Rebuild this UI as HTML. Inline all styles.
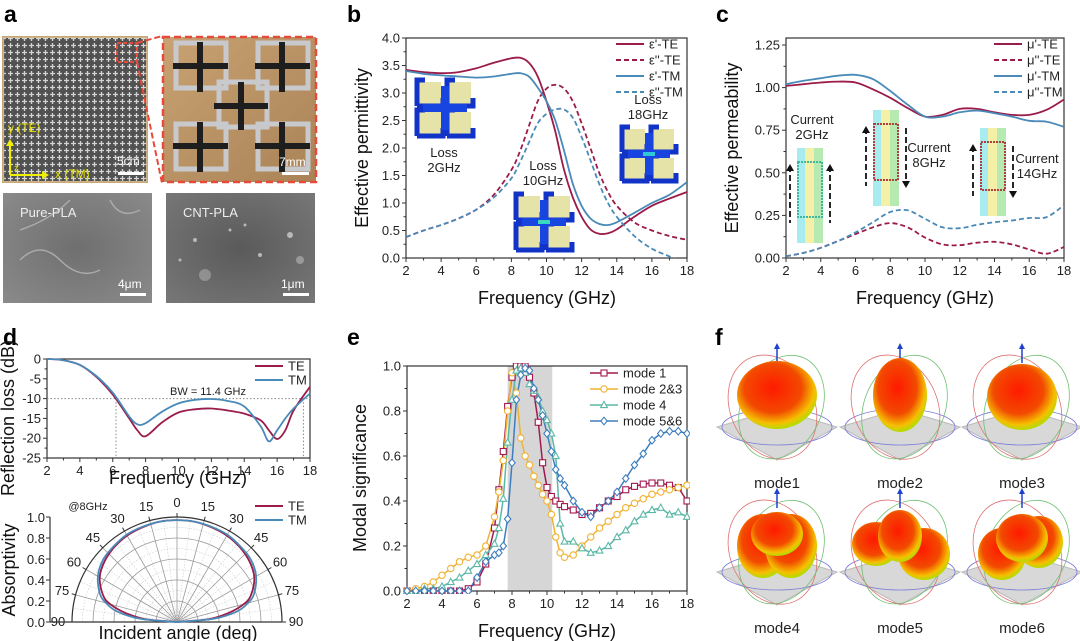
<!DOCTYPE html>
<html><head><meta charset="utf-8"><style>
body{margin:0;background:#fff;}
svg{display:block;font-family:"Liberation Sans",Arial,sans-serif;}
.tk{font-size:13px;fill:#222;}
.ttl{font-size:18px;fill:#111;}
.lg{font-size:13px;fill:#222;}
.pl{font-size:23px;font-weight:bold;fill:#000;}
</style></head><body>
<svg id="fig" width="1080" height="641" viewBox="0 0 1080 641" xmlns="http://www.w3.org/2000/svg">
<defs>
<pattern id="mesh" width="7" height="7" patternUnits="userSpaceOnUse"><rect width="7" height="7" fill="#3a3a3a"/><path d="M3.5 1v5M1 3.5h5" stroke="#cfcfcf" stroke-width="1.3"/></pattern>
<linearGradient id="wood" x1="0" y1="0" x2="1" y2="1"><stop offset="0" stop-color="#c9a273"/><stop offset="1" stop-color="#a98356"/></linearGradient>
<radialGradient id="sem1" cx="0.5" cy="0.5" r="0.7"><stop offset="0" stop-color="#6f6f6f"/><stop offset="1" stop-color="#8a8a8a"/></radialGradient>
<radialGradient id="sem2" cx="0.5" cy="0.5" r="0.7"><stop offset="0" stop-color="#5a5a5a"/><stop offset="1" stop-color="#777"/></radialGradient>
<radialGradient id="lobe" cx="0.45" cy="0.4" r="0.65"><stop offset="0" stop-color="#ff1a00"/><stop offset="0.55" stop-color="#f24a00"/><stop offset="0.8" stop-color="#f5c000"/><stop offset="0.95" stop-color="#a8e000"/><stop offset="1" stop-color="#40d040"/></radialGradient>
<clipPath id="cb"><rect x="406" y="38" width="281" height="220"/></clipPath>
<clipPath id="cc"><rect x="786" y="45" width="278" height="213"/></clipPath>
<clipPath id="ce"><rect x="403" y="363" width="287" height="231"/></clipPath>
</defs>

<g>
<text class="pl" x="4" y="22">a</text>
<rect x="3" y="37" width="144" height="145" fill="url(#mesh)" stroke="#c8a878" stroke-width="2"/>
<rect x="3" y="37" width="144" height="145" fill="#fff" opacity="0.12"/>
<rect x="117" y="43" width="20" height="19" fill="none" stroke="#e84a3a" stroke-width="2" stroke-dasharray="4 2"/>
<path d="M137 43 L162 36 M137 62 L162 183" stroke="#e84a3a" stroke-width="2" stroke-dasharray="6 3" fill="none"/>
<text x="8" y="132" font-size="12" fill="#e6e000">y (TE)</text>
<text x="55" y="178" font-size="12" fill="#e6e000">x (TM)</text>
<path d="M10 175 V142 M10 175 H45" stroke="#f0f000" stroke-width="2"/>
<path d="M6 146 L10 139 L14 146Z M42 171 L49 175 L42 179Z" fill="#f0f000"/>
<text x="14" y="171" font-size="9" fill="#f0f000">z</text>
<text x="117" y="165" font-size="12" fill="#fff">5cm</text>
<rect x="118" y="172" width="26" height="3" fill="#fff"/>
<rect x="163" y="37" width="153" height="145" fill="url(#wood)"/>
<g fill="none" stroke="#c7c9cc" stroke-width="5">
<rect x="176" y="43" width="50" height="45"/><rect x="258" y="43" width="50" height="45"/>
<rect x="219" y="82" width="48" height="45"/>
<rect x="176" y="124" width="50" height="45"/><rect x="258" y="124" width="50" height="45"/>
</g>
<g stroke="#1e1e1e" stroke-width="6">
<path d="M173 66H228M200 42V92M255 66H310M282 42V92M214 106H268M241 82V130M173 146H228M200 122V172M255 146H310M282 122V172"/>
</g>
<rect x="163" y="37" width="153" height="145" fill="none" stroke="#e84a3a" stroke-width="2.5" stroke-dasharray="7 4"/>
<text x="279" y="166" font-size="12" fill="#fff">7mm</text>
<rect x="282" y="172" width="27" height="3" fill="#fff"/>
<rect x="3" y="193" width="149" height="110" fill="url(#sem1)"/>
<path d="M20 260 q20 -20 40 0 t40 10 M110 200 q10 20 30 10 M20 230 q30 -10 50 -30" stroke="#aaa" stroke-width="1.5" fill="none"/>
<text x="20" y="217" font-size="13" fill="#eee">Pure-PLA</text>
<text x="118" y="288" font-size="12" fill="#fff">4μm</text>
<rect x="120" y="293" width="26" height="3" fill="#fff"/>
<rect x="166" y="193" width="149" height="110" fill="url(#sem2)"/>
<g fill="#b8b8b8"><circle cx="195" cy="240" r="2"/><circle cx="230" cy="230" r="1.5"/><circle cx="260" cy="255" r="2"/><circle cx="290" cy="235" r="3"/><circle cx="205" cy="275" r="6" opacity="0.5"/><circle cx="300" cy="260" r="4" opacity="0.6"/><circle cx="245" cy="225" r="1.5"/><circle cx="180" cy="260" r="1.5"/></g>
<text x="183" y="217" font-size="13" fill="#eee">CNT-PLA</text>
<text x="281" y="288" font-size="12" fill="#fff">1μm</text>
<rect x="283" y="293" width="26" height="3" fill="#fff"/>
</g>

<g id="panelB">
<text class="pl" x="347" y="22">b</text>
</g>
<g id="panelC">
<text class="pl" x="716" y="22">c</text>
</g>
<g id="panelD">
<text class="pl" x="3" y="345">d</text>
</g>
<g id="panelE">
<text class="pl" x="347" y="345">e</text>
</g>
<g id="panelF">
<text class="pl" x="715" y="345">f</text>
</g>
</svg>
<script>
const freqB = [2,3,4,5,6,7,8,8.5,9,9.5,10,10.5,11,11.5,12,12.5,13,13.5,14,15,16,17,18];
const epsRealTE = [3.42,3.38,3.36,3.38,3.45,3.55,3.63,3.64,3.55,3.3,2.85,2.3,1.6,1.1,0.75,0.52,0.44,0.45,0.52,0.75,0.95,1.08,1.2];
const epsImagTE = [0.38,0.5,0.6,0.72,0.88,1.15,1.6,1.95,2.4,2.85,3.08,3.15,3.08,2.85,2.45,2.0,1.55,1.2,0.95,0.65,0.5,0.4,0.33];
const epsRealTM = [3.4,3.35,3.32,3.3,3.28,3.3,3.35,3.36,3.3,3.1,2.85,2.5,1.95,1.35,0.95,0.72,0.62,0.6,0.65,0.82,1.0,1.15,1.38];
const epsImagTM = [0.38,0.5,0.6,0.72,0.88,1.1,1.45,1.75,2.1,2.45,2.62,2.7,2.7,2.55,2.2,1.78,1.35,1.0,0.75,0.4,0.17,0.03,-0.1];
const ticksB = ["0.0","0.5","1.0","1.5","2.0","2.5","3.0","3.5","4.0"];

const freqC = [2,3,4,5,6,7,8,9,10,11,12,13,14,15,16,17,18];
const muRealTE = [1.01,1.02,1.03,1.035,1.03,0.99,0.94,0.88,0.83,0.84,0.875,0.875,0.855,0.84,0.84,0.87,0.93];
const muImagTE = [0.01,0.03,0.06,0.1,0.14,0.18,0.205,0.18,0.12,0.08,0.075,0.09,0.095,0.08,0.05,0.025,0.065];
const muRealTM = [1.02,1.04,1.055,1.07,1.075,1.05,0.98,0.9,0.83,0.83,0.855,0.865,0.85,0.83,0.805,0.8,0.77];
const muImagTM = [0.01,0.03,0.06,0.1,0.15,0.21,0.27,0.28,0.23,0.18,0.175,0.195,0.21,0.22,0.235,0.24,0.31];
const ticksC = ["0.00","0.25","0.50","0.75","1.00","1.25"];

const freqD = [2,3,4,5,6,7,7.5,8,9,10,11,12,13,14,15,15.5,16,16.5,17,18];
const rlTE = [0,-0.3,-1.5,-4.5,-9,-15,-18,-19.5,-16,-13.5,-12.7,-12.5,-13,-13.8,-15.5,-18,-20.2,-18,-13,-7];
const rlTM = [0,-0.3,-1.5,-4.3,-8.5,-14.5,-16.5,-16.2,-13.3,-11.2,-10.3,-10.1,-10.6,-12,-17,-20.8,-18,-15,-12.5,-8.7];
const ticksD = ["0","-5","-10","-15","-20","-25"];
const bwStart = 6.2, bwEnd = 17.6;

const angles = [0,10,20,30,40,50,60,70,75,80,85,90];
const absTE = [0.97,0.97,0.96,0.95,0.93,0.9,0.85,0.75,0.66,0.5,0.3,0.0];
const absTM = [0.97,0.97,0.965,0.96,0.94,0.92,0.87,0.78,0.7,0.58,0.35,0.0];

const freqE = [2,2.5,3,3.5,4,4.5,5,5.5,6,6.5,7,7.25,7.5,7.75,8,8.25,8.5,8.75,9,9.25,9.5,9.75,10,10.25,10.5,10.75,11,11.5,12,12.5,13,13.5,14,14.5,15,15.5,16,16.5,17,17.5,18];
const mode1 = [0,0,0,0,0,0,0,0.01,0.04,0.12,0.28,0.45,0.62,0.82,0.95,1.0,1.0,1.0,0.95,0.88,0.75,0.57,0.46,0.42,0.4,0.385,0.375,0.36,0.34,0.345,0.37,0.4,0.42,0.45,0.465,0.475,0.48,0.48,0.47,0.46,0.4];
const mode23 = [0,0.01,0.02,0.04,0.07,0.1,0.13,0.15,0.16,0.2,0.33,0.44,0.58,0.8,0.97,0.88,0.68,0.6,0.56,0.51,0.47,0.43,0.4,0.34,0.24,0.17,0.15,0.16,0.2,0.24,0.28,0.31,0.34,0.37,0.39,0.41,0.43,0.44,0.45,0.46,0.47];
const mode4 = [0,0,0.01,0.01,0.02,0.04,0.06,0.09,0.12,0.16,0.21,0.28,0.41,0.66,0.85,0.98,0.99,0.97,0.92,0.89,0.86,0.8,0.76,0.7,0.6,0.3,0.22,0.22,0.19,0.17,0.18,0.2,0.24,0.27,0.31,0.34,0.36,0.37,0.34,0.35,0.33];
const mode56 = [0,0,0,0,0,0,0,0,0.06,0.13,0.16,0.17,0.2,0.32,0.57,0.85,0.96,0.99,0.98,0.9,0.85,0.78,0.7,0.62,0.54,0.5,0.47,0.4,0.35,0.33,0.37,0.4,0.44,0.5,0.56,0.61,0.67,0.7,0.71,0.71,0.7];
const ticksE = ["0.0","0.2","0.4","0.6","0.8","1.0"];
const shadeStart = 7.75, shadeEnd = 10.3;
const freqTicks = [2,4,6,8,10,12,14,16,18];

const NS = "http://www.w3.org/2000/svg";
const CTE = "#9b1b4a", CTM = "#4a8ab8";
function mk(parent, tag, attrs, text) {
  const el = document.createElementNS(NS, tag);
  for (const k in attrs) el.setAttribute(k, attrs[k]);
  if (text !== undefined) el.textContent = text;
  parent.appendChild(el);
  return el;
}
function smooth(pts) {
  let d = "M" + pts[0][0].toFixed(1) + " " + pts[0][1].toFixed(1);
  for (let i = 0; i < pts.length - 1; i++) {
    const p0 = pts[Math.max(0, i - 1)], p1 = pts[i], p2 = pts[i + 1], p3 = pts[Math.min(pts.length - 1, i + 2)];
    const c1x = p1[0] + (p2[0] - p0[0]) / 6, c1y = p1[1] + (p2[1] - p0[1]) / 6;
    const c2x = p2[0] - (p3[0] - p1[0]) / 6, c2y = p2[1] - (p3[1] - p1[1]) / 6;
    d += " C" + c1x.toFixed(1) + " " + c1y.toFixed(1) + " " + c2x.toFixed(1) + " " + c2y.toFixed(1) + " " + p2[0].toFixed(1) + " " + p2[1].toFixed(1);
  }
  return d;
}
function frame(g, x0, y0, x1, y1, xs, ys, yTicks, yVals, xMinorFn, yMinorVals) {
  const fr = mk(g, "rect", {x: x0, y: y0, width: x1 - x0, height: y1 - y0, fill: "none", stroke: "#333", "stroke-width": 1.2});
  
  
  freqTicks.forEach(f => {
    const x = xs(f);
    mk(g, "line", {x1: x, x2: x, y1: y1, y2: y1 + 4, stroke: "#333"});
    const t = mk(g, "text", {x: x, y: y1 + 17, class: "tk", "text-anchor": "middle"}, String(f));
    
    
  });
  for (let f = 3; f < 18; f += 2) { const x = xs(f); mk(g, "line", {x1: x, x2: x, y1: y1, y2: y1 + 2.5, stroke: "#333"}); }
  yVals.forEach((v, i) => {
    const y = ys(v);
    mk(g, "line", {x1: x0 - 4, x2: x0, y1: y, y2: y, stroke: "#333"});
    const t = mk(g, "text", {x: x0 - 6, y: y + 4.5, class: "tk", "text-anchor": "end"}, yTicks[i]);
    
    
  });
  if (yMinorVals) yMinorVals.forEach(v => { const y = ys(v); mk(g, "line", {x1: x0 - 2.5, x2: x0, y1: y, y2: y, stroke: "#333"}); });
}
function title(g, x, y, txt, rot, size, name) {
  const a = {x: x, y: y, class: "ttl", "text-anchor": "middle"};
  if (size) a["font-size"] = size;
  if (rot) a.transform = "rotate(-90 " + x + " " + y + ")";
  const t = mk(g, "text", a, txt);
  
  
}
function legendLine(g, x, y, color, dash, label, name) {
  mk(g, "line", {x1: x, x2: x + 28, y1: y, y2: y, stroke: color, "stroke-width": 2, "stroke-dasharray": dash || "none"});
  const t = mk(g, "text", {x: x + 33, y: y + 4.5, class: "lg"}, label);
  
  
}

(function(){
  const g = document.getElementById("panelB");
  const xs = f => 406 + (f - 2) / 16 * 281, ys = v => 258 - v / 4 * 220;
  frame(g, 406, 38, 687, 258, xs, ys, ticksB, [0,0.5,1,1.5,2,2.5,3,3.5,4], null, [0.25,0.75,1.25,1.75,2.25,2.75,3.25,3.75]);
  title(g, 547, 304, "Frequency (GHz)", false, 19, "x-axis-title");
  title(g, 368, 148, "Effective permittivity", true, 19, "y-axis-title");
  function cell(x, y, s, hot) {
    const c = mk(g, "g", {});
    
    
    const q = s / 2;
    [[0,0],[q,0],[0,q],[q,q]].forEach(o => {
      mk(c, "rect", {x: x + o[0] + 4, y: y + o[1] + 4, width: q - 8, height: q - 8, fill: "#e3e0a0", opacity: 0.9});
      mk(c, "path", {d: "M" + (x+o[0]+2) + " " + (y+o[1]+q-2) + "V" + (y+o[1]+2) + "H" + (x+o[0]+10), stroke: "#1233c8", "stroke-width": 5, fill: "none"});
      mk(c, "path", {d: "M" + (x+o[0]+q-2) + " " + (y+o[1]+q-10) + "V" + (y+o[1]+q-2) + "H" + (x+o[0]+2), stroke: "#1233c8", "stroke-width": 5, fill: "none"});
    });
    mk(c, "path", {d: "M" + (x+q) + " " + (y+8) + "V" + (y+s-8) + "M" + (x+8) + " " + (y+q) + "H" + (x+s-8), stroke: "#1845e0", "stroke-width": 8});
    if (hot) mk(c, "path", {d: "M" + (x+q-6) + " " + (y+q) + "H" + (x+q+6), stroke: hot, "stroke-width": 4});
  }
  cell(415, 78, 60, null); cell(514, 192, 60, "#3bd8c0"); cell(620, 125, 58, "#30c8d8");
  [["Loss",444,157],["2GHz",444,172],["Loss",543,170],["10GHz",543,185],["Loss",648,104],["18GHz",648,119]].forEach(t => {
    const e = mk(g, "text", {x: t[1], y: t[2], "font-size": 13, fill: "#222", "text-anchor": "middle"}, t[0]);
    
    
  });
  const cg = mk(g, "g", {"clip-path": "url(#cb)"});
  [[epsRealTE, CTE, null, "eps-real-te-line"],[epsImagTE, CTE, "5 3", "eps-imag-te-line"],[epsRealTM, CTM, null, "eps-real-tm-line"],[epsImagTM, CTM, "5 3", "eps-imag-tm-line"]].forEach(s => {
    const p = mk(cg, "path", {d: smooth(freqB.map((f, i) => [xs(f), ys(s[0][i])])), fill: "none", stroke: s[1], "stroke-width": 1.8, "stroke-dasharray": s[2] || "none"});
    
    
  });
  legendLine(g, 616, 44, CTE, null, "ε'-TE", "legend-eps-real-te");
  legendLine(g, 616, 60, CTE, "5 3", "ε''-TE", "legend-eps-imag-te");
  legendLine(g, 616, 76, CTM, null, "ε'-TM", "legend-eps-real-tm");
  legendLine(g, 616, 92, CTM, "5 3", "ε''-TM", "legend-eps-imag-tm");
})();

(function(){
  const g = document.getElementById("panelC");
  const xs = f => 786 + (f - 2) / 16 * 278, ys = v => 258 - v / 1.25 * 213;
  frame(g, 786, 38, 1064, 258, xs, ys, ticksC, [0,0.25,0.5,0.75,1,1.25], null, [0.125,0.375,0.625,0.875,1.125]);
  title(g, 925, 304, "Frequency (GHz)", false, 19, "x-axis-title");
  title(g, 738, 148, "Effective permeability", true, 19, "y-axis-title");
  function strip(x, y, h, up1, up2) {
    const c = mk(g, "g", {});
    
    
    mk(c, "rect", {x: x, y: y, width: 8, height: h, fill: "#a8ecf0"});
    mk(c, "rect", {x: x + 8, y: y, width: 9, height: h, fill: "#f4f0a8"});
    mk(c, "rect", {x: x + 17, y: y, width: 9, height: h, fill: "#b6eab0"});
    mk(c, "rect", {x: x + 1, y: y + 14, width: 24, height: h - 40, fill: "none", stroke: up1 === up2 ? "#40b8a0" : "#b04040", "stroke-width": 2, "stroke-dasharray": "2 1"});
    [[x - 7, up1],[x + 33, up2]].forEach(a => {
      const y1 = y + 18, y2 = y + h - 20;
      mk(c, "line", {x1: a[0], x2: a[0], y1: y1, y2: y2, stroke: "#111", "stroke-width": 1.8, "stroke-dasharray": "6 3"});
      const ty = a[1] ? y1 - 2 : y2 + 2, d = a[1] ? 7 : -7;
      mk(c, "path", {d: "M" + (a[0]-4) + " " + (ty + d) + "L" + a[0] + " " + ty + "L" + (a[0]+4) + " " + (ty + d) + "Z", fill: "#111"});
    });
  }
  strip(797, 148, 95, true, true); strip(873, 110, 96, true, false); strip(980, 128, 88, true, false);
  [["Current",812,124],["2GHz",812,139],["Current",929,152],["8GHz",929,167],["Current",1037,163],["14GHz",1037,178]].forEach(t => {
    const e = mk(g, "text", {x: t[1], y: t[2], "font-size": 13, fill: "#222", "text-anchor": "middle"}, t[0]);
    
    
  });
  const cg = mk(g, "g", {"clip-path": "url(#cc)"});
  [[muRealTE, CTE, null, "mu-real-te-line"],[muImagTE, CTE, "5 3", "mu-imag-te-line"],[muRealTM, CTM, null, "mu-real-tm-line"],[muImagTM, CTM, "5 3", "mu-imag-tm-line"]].forEach(s => {
    const p = mk(cg, "path", {d: smooth(freqC.map((f, i) => [xs(f), ys(s[0][i])])), fill: "none", stroke: s[1], "stroke-width": 1.8, "stroke-dasharray": s[2] || "none"});
    
    
  });
  legendLine(g, 994, 44, CTE, null, "μ'-TE", "legend-mu-real-te");
  legendLine(g, 994, 60, CTE, "5 3", "μ''-TE", "legend-mu-imag-te");
  legendLine(g, 994, 76, CTM, null, "μ'-TM", "legend-mu-real-tm");
  legendLine(g, 994, 92, CTM, "5 3", "μ''-TM", "legend-mu-imag-tm");
})();

(function(){
  const g = document.getElementById("panelD");
  const xs = f => 47 + (f - 2) / 16 * 263, ys = v => 359 + (-v) / 25 * 99;
  frame(g, 47, 359, 310, 458, xs, ys, ticksD, [0,-5,-10,-15,-20,-25], null, [-2.5,-7.5,-12.5,-17.5,-22.5]);
  title(g, 178, 484, "Frequency (GHz)", false, 17, "x-axis-title");
  title(g, 14, 418, "Reflection loss (dB)", true, 13, "y-axis-title");
  mk(g, "path", {d: "M47 " + ys(-10) + "H310 M" + xs(bwStart) + " " + ys(-10) + "V458 M" + xs(bwEnd) + " " + ys(-10) + "V458", stroke: "#888", "stroke-width": 1, "stroke-dasharray": "1.5 2", fill: "none"});
  const bw = mk(g, "text", {x: 208, y: 395, "font-size": 11, fill: "#222", "text-anchor": "middle"}, "BW = 11.4 GHz");
  
  
  [[rlTE, CTE, "rl-te-line"],[rlTM, CTM, "rl-tm-line"]].forEach(s => {
    const p = mk(g, "path", {d: smooth(freqD.map((f, i) => [xs(f), ys(s[0][i])])), fill: "none", stroke: s[1], "stroke-width": 1.8});
    
    
  });
  legendLine(g, 255, 366, CTE, null, "TE", "legend-te");
  legendLine(g, 255, 380, CTM, null, "TM", "legend-tm");

  const cx = 177, cy = 622, R = 105;
  const pg = mk(g, "g", {});
  
  
  for (let r = 0.1; r <= 1.001; r += 0.1) {
    const rr = r * R, major = Math.round(r * 10) % 2 === 0;
    mk(pg, "path", {d: "M" + (cx - rr) + " " + cy + " A" + rr + " " + rr + " 0 0 1 " + (cx + rr) + " " + cy, fill: "none", stroke: major ? "#999" : "#ccc", "stroke-width": major ? 0.8 : 0.6, "stroke-dasharray": major ? "none" : "1.5 1.5"});
  }
  for (let a = -90; a <= 90; a += 7.5) {
    const t = a * Math.PI / 180, major = a % 15 === 0;
    mk(pg, "line", {x1: cx, y1: cy, x2: cx + R * Math.sin(t), y2: cy - R * Math.cos(t), stroke: major ? "#999" : "#ccc", "stroke-width": major ? 0.8 : 0.6, "stroke-dasharray": major ? "none" : "1.5 1.5"});
    if (major) {
      mk(pg, "line", {x1: cx + R * Math.sin(t), y1: cy - R * Math.cos(t), x2: cx + (R + 4) * Math.sin(t), y2: cy - (R + 4) * Math.cos(t), stroke: "#333"});
      const lbl = mk(pg, "text", {x: cx + (R + 14) * Math.sin(t), y: cy - (R + 14) * Math.cos(t) + 4, class: "tk", "text-anchor": "middle"}, String(Math.abs(a)));
      
      
    }
  }
  mk(pg, "path", {d: "M" + (cx - R) + " " + cy + " A" + R + " " + R + " 0 0 1 " + (cx + R) + " " + cy, fill: "none", stroke: "#333", "stroke-width": 1.2});
  mk(g, "line", {x1: 50, x2: 50, y1: cy - R, y2: cy, stroke: "#333", "stroke-width": 1.2});
  mk(g, "line", {x1: 50, x2: cx + R, y1: cy, y2: cy, stroke: "#333", "stroke-width": 1.2});
  [0,0.2,0.4,0.6,0.8,1.0].forEach(v => {
    const y = cy - v * R;
    mk(g, "line", {x1: 46, x2: 50, y1: y, y2: y, stroke: "#333"});
    const t = mk(g, "text", {x: 45, y: y + 5, class: "tk", "font-size": 15, "text-anchor": "end"}, v.toFixed(1));
    
    
  });
  const at = mk(g, "text", {x: 88, y: 510, "font-size": 11, fill: "#222", "text-anchor": "middle"}, "@8GHz");
  
  
  title(g, 178, 639, "Incident angle (deg)", false, 17, "polar-x-title");
  title(g, 15, 570, "Absorptivity", true, 18, "polar-y-title");
  [[absTE, CTE, "absorptivity-te-line"],[absTM, CTM, "absorptivity-tm-line"]].forEach(s => {
    const pts = [];
    for (let i = angles.length - 1; i >= 0; i--) { const t = -angles[i] * Math.PI / 180; pts.push([cx + s[0][i] * R * Math.sin(t), cy - s[0][i] * R * Math.cos(t)]); }
    for (let i = 1; i < angles.length; i++) { const t = angles[i] * Math.PI / 180; pts.push([cx + s[0][i] * R * Math.sin(t), cy - s[0][i] * R * Math.cos(t)]); }
    const p = mk(g, "path", {d: smooth(pts), fill: "none", stroke: s[1], "stroke-width": 1.8});
    
    
  });
  legendLine(g, 255, 506, CTE, null, "TE", "legend-te-polar");
  legendLine(g, 255, 520, CTM, null, "TM", "legend-tm-polar");
})();

(function(){
  const g = document.getElementById("panelE");
  const xs = f => 407 + (f - 2) / 16 * 280, ys = v => 591 - v * 225;
  const sh = mk(g, "rect", {x: xs(shadeStart), y: ys(1), width: xs(shadeEnd) - xs(shadeStart), height: 225, fill: "#d6d6d6"});
  
  
  frame(g, 407, 366, 687, 591, xs, ys, ticksE, [0,0.2,0.4,0.6,0.8,1.0], null, [0.1,0.3,0.5,0.7,0.9]);
  title(g, 547, 637, "Frequency (GHz)", false, 19, "x-axis-title");
  title(g, 366, 478, "Modal significance", true, 19, "y-axis-title");
  const cg = mk(g, "g", {"clip-path": "url(#ce)"});
  const series = [[mode1, "#a3184e", "sq", "mode-1-line"],[mode23, "#f0b232", "ci", "mode-2-3-line"],[mode4, "#5cb8a6", "tr", "mode-4-line"],[mode56, "#3d7ebf", "di", "mode-5-6-line"]];
  function marker(p, x, y, type, color) {
    const a = {fill: "#fff", stroke: color, "stroke-width": 1.1};
    if (type === "sq") { a.x = x - 3; a.y = y - 3; a.width = 6; a.height = 6; return mk(p, "rect", a); }
    if (type === "ci") { a.cx = x; a.cy = y; a.r = 3.2; return mk(p, "circle", a); }
    if (type === "tr") { a.d = "M" + x + " " + (y - 3.6) + "L" + (x + 3.4) + " " + (y + 2.6) + "L" + (x - 3.4) + " " + (y + 2.6) + "Z"; return mk(p, "path", a); }
    a.d = "M" + x + " " + (y - 3.8) + "L" + (x + 3.2) + " " + y + "L" + x + " " + (y + 3.8) + "L" + (x - 3.2) + " " + y + "Z"; return mk(p, "path", a);
  }
  series.forEach(s => {
    const pts = freqE.map((f, i) => [xs(f), ys(s[0][i])]);
    const p = mk(cg, "polyline", {points: pts.map(q => q[0].toFixed(1) + "," + q[1].toFixed(1)).join(" "), fill: "none", stroke: s[1], "stroke-width": 1.5});
    
    
  });
  series.forEach(s => {
    freqE.forEach((f, i) => {
      const m = marker(cg, xs(f), ys(s[0][i]), s[2], s[1]);
      
      
    });
  });
  const labels = ["mode 1","mode 2&3","mode 4","mode 5&6"];
  series.forEach((s, i) => {
    const y = 373 + i * 16;
    mk(g, "line", {x1: 590, x2: 618, y1: y, y2: y, stroke: s[1], "stroke-width": 1.5});
    marker(g, 604, y, s[2], s[1]);
    const t = mk(g, "text", {x: 623, y: y + 4.5, class: "lg"}, labels[i]);
    
    
  });
})();

(function(){
  const g = document.getElementById("panelF");
  const cols = [777, 900, 1022], names = ["mode1","mode2","mode3","mode4","mode5","mode6"];
  const shapes = [
    [[0,-10,40,34]], [[0,-10,27,37]], [[0,-8,35,33]],
    [[-14,-4,26,32],[14,-4,26,32],[0,-16,26,22]], [[-24,-6,24,22],[24,4,26,26],[0,-14,22,26]], [[-20,4,24,26],[17,-8,24,26],[0,-12,26,24]]
  ];
  names.forEach((n, i) => {
    const cx = cols[i % 3], cy = i < 3 ? 405 : 550, ly = i < 3 ? 488 : 633;
    const grp = mk(g, "g", {});
    
    
    mk(grp, "path", {d: "M" + (cx - 60) + " " + (cy + 22) + "L" + cx + " " + (cy + 4) + "L" + (cx + 60) + " " + (cy + 22) + "L" + cx + " " + (cy + 55) + "Z", fill: "#d8d8d8", stroke: "#bbb"});
    mk(grp, "ellipse", {cx: cx, cy: cy + 22, rx: 55, ry: 18, fill: "none", stroke: "#7a7ad8", "stroke-width": 0.8});
    mk(grp, "ellipse", {cx: cx - 5, cy: cy, rx: 42, ry: 54, fill: "none", stroke: "#e07070", "stroke-width": 0.8, transform: "rotate(-25 " + cx + " " + cy + ")"});
    mk(grp, "ellipse", {cx: cx + 5, cy: cy, rx: 40, ry: 54, fill: "none", stroke: "#70c070", "stroke-width": 0.8, transform: "rotate(25 " + cx + " " + cy + ")"});
    mk(grp, "line", {x1: cx, x2: cx, y1: cy - 58, y2: cy - 42, stroke: "#2040d0", "stroke-width": 1.5});
    mk(grp, "path", {d: "M" + (cx - 3) + " " + (cy - 56) + "L" + cx + " " + (cy - 62) + "L" + (cx + 3) + " " + (cy - 56) + "Z", fill: "#2040d0"});
    shapes[i].forEach(s => mk(grp, "ellipse", {cx: cx + s[0], cy: cy + s[1], rx: s[2], ry: s[3], fill: "url(#lobe)"}));
    const t = mk(g, "text", {x: cx, y: ly, "font-size": 15, fill: "#222", "text-anchor": "middle"}, n);
    
    
  });
})();
</script>
</body></html>
